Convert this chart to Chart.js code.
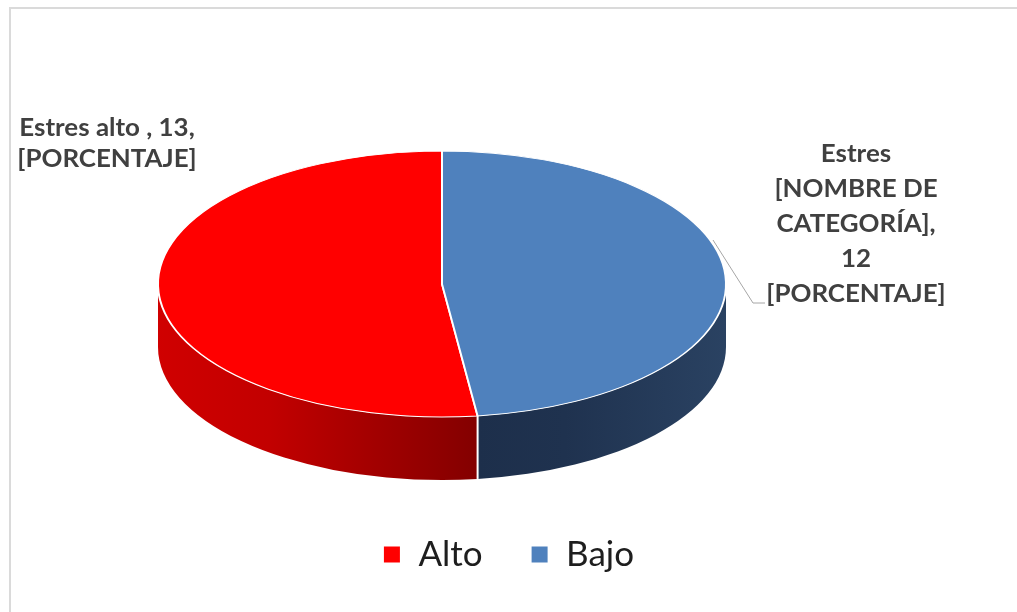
<!DOCTYPE html>
<html>
<head>
<meta charset="utf-8">
<title>Estres</title>
<script src="https://cdn.jsdelivr.net/npm/chart.js@4.4.0/dist/chart.umd.min.js"></script>
<style>
  html, body { margin: 0; padding: 0; background: #fff; }
  #wrap { position: relative; width: 1017px; height: 612px; overflow: hidden; }
  #frame { position: absolute; left: 9px; top: 7px; width: 1100px; height: 700px;
           border-top: 2px solid #dadada; border-left: 2px solid #dadada; }
  #pieChart { position: absolute; left: 0; top: 0; }
</style>
</head>
<body>
<div id="wrap">
  <div id="frame"></div>
  <canvas id="pieChart" width="1017" height="612"></canvas>
</div>
<script>
// Data
const categories = ["Alto", "Bajo"];
const values = [13, 12];
const topColors = ["#ff0000", "#4f81bd"];
const sideColors = [["#d00000", "#c20000", "#830000"], ["#1d2f4b", "#1f324f", "#2a4262"]];
const labelLines = [
  ["Estres alto , " + values[0] + ",", "[PORCENTAJE]"],
  ["Estres", "[NOMBRE DE", "CATEGORÍA],", String(values[1]), "[PORCENTAJE]"]
];

// Where the flattened pie sits on the page
const PIE = { cx: 442, cy: 284, rx: 284, ry: 133, depth: 63 };
const LABELS = [
  { x: 107, y: 136, step: 31 },
  { x: 856, y: 162, step: 35 }
];
const FONT_LABEL = "bold 24px Lato";
const LABEL_STRETCH = 1.08;

// Draws the side wall, squashes the top face, adds the data labels
const pie3d = {
  id: "pie3d",
  beforeDatasetsDraw(chart) {
    const ctx = chart.ctx;
    const arcs = chart.getDatasetMeta(0).data;
    const { cx, cy, rx, ry, depth } = PIE;

    arcs.forEach((arc, i) => {
      const a0 = arc.startAngle, a1 = arc.endAngle;
      [-2 * Math.PI, 0, 2 * Math.PI].forEach((shift) => {
        const lo = Math.max(a0, shift), hi = Math.min(a1, shift + Math.PI);
        if (hi <= lo) return;
        const s = lo - shift, e = hi - shift;
        const xa = cx + rx * Math.cos(s), xb = cx + rx * Math.cos(e);
        const grad = ctx.createLinearGradient(Math.min(xa, xb), 0, Math.max(xa, xb), 0);
        const c = sideColors[i];
        grad.addColorStop(0, c[0]);
        grad.addColorStop(0.35, c[1]);
        grad.addColorStop(1, c[2]);
        ctx.save();
        ctx.beginPath();
        ctx.ellipse(cx, cy, rx, ry, 0, s, e, false);
        ctx.ellipse(cx, cy + depth, rx, ry, 0, e, s, true);
        ctx.closePath();
        ctx.fillStyle = grad;
        ctx.fill();
        ctx.restore();
      });
    });

    // white seams where slices meet on the wall
    arcs.forEach((arc) => {
      const a = ((arc.startAngle % (2 * Math.PI)) + 2 * Math.PI) % (2 * Math.PI);
      if (a > 0 && a < Math.PI) {
        const x = cx + rx * Math.cos(a), y = cy + ry * Math.sin(a);
        ctx.save();
        ctx.strokeStyle = "#ffffff";
        ctx.lineWidth = 2;
        ctx.beginPath();
        ctx.moveTo(x, y);
        ctx.lineTo(x, y + depth);
        ctx.stroke();
        ctx.restore();
      }
    });

    // flatten the top face
    const ref = arcs[0];
    ctx.save();
    ctx.translate(cx - ref.x, cy);
    ctx.scale(1, ry / rx);
    ctx.translate(0, -ref.y);
  },
  afterDatasetsDraw(chart) {
    const ctx = chart.ctx;
    ctx.restore();

    // leader line for the right label
    ctx.save();
    ctx.strokeStyle = "#a6a6a6";
    ctx.lineWidth = 1;
    ctx.beginPath();
    ctx.moveTo(713, 240);
    ctx.lineTo(753, 303);
    ctx.lineTo(765, 303);
    ctx.stroke();
    ctx.restore();

    ctx.save();
    ctx.font = FONT_LABEL;
    ctx.fillStyle = "#404040";
    ctx.textAlign = "center";
    ctx.textBaseline = "alphabetic";
    labelLines.forEach((lines, i) => {
      const p = LABELS[i];
      lines.forEach((t, j) => {
        ctx.save();
        ctx.translate(p.x, p.y + j * p.step);
        ctx.scale(LABEL_STRETCH, 1);
        ctx.fillText(t, 0, 0);
        ctx.restore();
      });
    });
    ctx.restore();
  }
};

new Chart(document.getElementById("pieChart"), {
  type: "pie",
  data: {
    labels: categories,
    datasets: [{
      data: values,
      backgroundColor: topColors,
      borderColor: "#ffffff",
      borderWidth: 2,
      radius: PIE.rx,
      clip: false
    }]
  },
  options: {
    responsive: false,
    animation: false,
    rotation: 360 * values[1] / (values[0] + values[1]),
    layout: { padding: { bottom: 30 } },
    plugins: {
      tooltip: { enabled: false },
      legend: {
        position: "bottom",
        labels: {
          boxWidth: 18,
          boxHeight: 18,
          padding: 48,
          color: "#1e1e1e",
          font: { family: "Lato", size: 35 }
        }
      }
    }
  },
  plugins: [pie3d]
});
</script>
</body>
</html>
